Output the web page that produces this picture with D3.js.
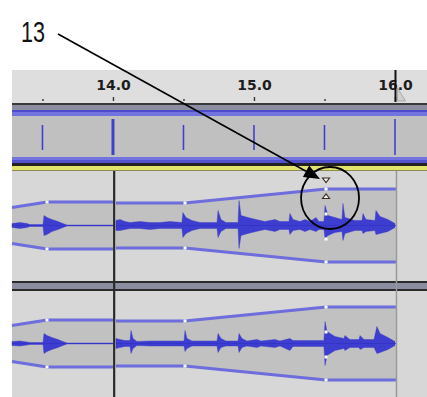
<!DOCTYPE html>
<html>
<head>
<meta charset="utf-8">
<script src="https://cdn.jsdelivr.net/npm/d3@7"></script>
<style>
    body { margin: 0; background: #fff; }
    svg { display: block; }
</style>
</head>
<body>
<div id="chart"></div>
<script>
// timeline in seconds, amplitudes as a fraction of half the track height
const rulerMajorTicks = [14.0, 15.0, 16.0];
const rulerMinorTicks = [13.5, 14.5, 15.5];
const beatTimes = [13.5, 14.0, 14.5, 15.0, 15.5, 16.0];
const barTimes = [14.0, 16.0];
const clipRanges = [[13.284, 14.0], [14.021, 16.007]];

// envelope control points per clip: [time, gain]
const envelopeClip1 = [[13.284, 0.36], [13.532, 0.47], [14.0, 0.47]];
const envelopeClip2 = [[14.021, 0.45], [14.511, 0.45], [15.511, 0.73], [16.007, 0.73]];
const envelopeHandleTimes = [13.532, 14.511, 15.511];
const selectedEnvelopeTime = 15.511;
const innerHandleValues = [0.23, -0.27];

// waveform outline: [time, top, bottom]
const waveTrackA = [
    [[13.284, 0.04, 0.04], [13.340, 0.06, 0.06], [13.390, 0.04, 0.04], [13.411, 0.02, 0.02],
     [13.504, 0.02, 0.02], [13.511, 0.20, 0.20], [13.532, 0.16, 0.18], [13.567, 0.12, 0.12],
     [13.610, 0.08, 0.08], [13.645, 0.04, 0.04], [13.674, 0.01, 0.01], [14.000, 0.01, 0.01]],
    [[14.021, 0.10, 0.10], [14.050, 0.12, 0.10], [14.085, 0.08, 0.08], [14.121, 0.06, 0.06],
     [14.191, 0.08, 0.06], [14.262, 0.06, 0.08], [14.333, 0.06, 0.06], [14.404, 0.08, 0.06],
     [14.489, 0.06, 0.06], [14.496, 0.26, 0.24], [14.518, 0.16, 0.16], [14.560, 0.10, 0.10],
     [14.617, 0.06, 0.06], [14.688, 0.06, 0.06], [14.738, 0.06, 0.06], [14.745, 0.30, 0.24],
     [14.766, 0.12, 0.12], [14.801, 0.06, 0.06], [14.887, 0.06, 0.06], [14.894, 0.50, 0.46],
     [14.908, 0.20, 0.20], [14.957, 0.16, 0.16], [15.014, 0.12, 0.12], [15.078, 0.08, 0.08],
     [15.149, 0.12, 0.12], [15.184, 0.08, 0.08], [15.248, 0.08, 0.08], [15.255, 0.24, 0.18],
     [15.277, 0.12, 0.10], [15.326, 0.08, 0.08], [15.362, 0.12, 0.12], [15.397, 0.08, 0.08],
     [15.440, 0.16, 0.12], [15.461, 0.08, 0.08], [15.496, 0.08, 0.08], [15.504, 0.40, 0.26],
     [15.525, 0.20, 0.20], [15.574, 0.16, 0.14], [15.624, 0.12, 0.12], [15.631, 0.44, 0.30],
     [15.645, 0.16, 0.16], [15.716, 0.10, 0.10], [15.766, 0.10, 0.10], [15.773, 0.24, 0.16],
     [15.794, 0.12, 0.12], [15.858, 0.10, 0.10], [15.865, 0.30, 0.18], [15.894, 0.18, 0.16],
     [15.950, 0.12, 0.12], [16.000, 0.04, 0.04]]
];
const waveTrackB = [
    [[13.284, 0.04, 0.04], [13.340, 0.05, 0.05], [13.390, 0.03, 0.03], [13.411, 0.02, 0.02],
     [13.504, 0.02, 0.02], [13.511, 0.20, 0.20], [13.532, 0.16, 0.16], [13.567, 0.12, 0.12],
     [13.610, 0.08, 0.08], [13.645, 0.04, 0.04], [13.674, 0.01, 0.01], [14.000, 0.01, 0.01]],
    [[14.021, 0.10, 0.10], [14.050, 0.08, 0.08], [14.085, 0.06, 0.06], [14.121, 0.06, 0.06],
     [14.128, 0.26, 0.20], [14.142, 0.10, 0.10], [14.170, 0.04, 0.04], [14.262, 0.05, 0.05],
     [14.404, 0.05, 0.05], [14.504, 0.05, 0.05], [14.511, 0.26, 0.16], [14.525, 0.10, 0.10],
     [14.560, 0.05, 0.05], [14.738, 0.05, 0.05], [14.745, 0.20, 0.18], [14.766, 0.10, 0.08],
     [14.801, 0.05, 0.05], [14.887, 0.05, 0.05], [14.894, 0.20, 0.18], [14.915, 0.10, 0.08],
     [14.950, 0.05, 0.05], [15.021, 0.08, 0.08], [15.050, 0.05, 0.05], [15.149, 0.08, 0.08],
     [15.184, 0.05, 0.05], [15.255, 0.10, 0.14], [15.277, 0.06, 0.06], [15.326, 0.06, 0.06],
     [15.496, 0.06, 0.06], [15.504, 0.44, 0.44], [15.518, 0.24, 0.24], [15.574, 0.14, 0.14],
     [15.638, 0.10, 0.10], [15.645, 0.16, 0.14], [15.680, 0.08, 0.08], [15.745, 0.08, 0.08],
     [15.752, 0.16, 0.12], [15.780, 0.08, 0.08], [15.851, 0.08, 0.08], [15.872, 0.34, 0.20],
     [15.894, 0.20, 0.18], [15.950, 0.12, 0.12], [16.000, 0.04, 0.04]]
];
const calloutLabel = '13';

class EnvelopeEditorView {
    constructor(_config) {
        this.config = {
            parentElement: _config.parentElement,
            containerWidth: _config.containerWidth || 427,
            containerHeight: _config.containerHeight || 397,
            panelLeft: _config.panelLeft || 12
        }
        this.initVis();
    }

    initVis() {
        let vis = this;

        vis.svg = d3.select(vis.config.parentElement).append('svg')
            .attr('width', vis.config.containerWidth)
            .attr('height', vis.config.containerHeight)
            .style('background', '#fff');

        vis.xScale = d3.scaleLinear()
            .domain([13.284, 16.227])
            .range([vis.config.panelLeft, vis.config.containerWidth]);

        // one vertical scale per audio track
        vis.tracks = [
            { top: 171, bottom: 281, center: 225.5, wave: waveTrackA, markers: true },
            { top: 291, bottom: 397, center: 343.5, wave: waveTrackB, markers: false }
        ];
        vis.tracks.forEach(t => {
            t.yScale = d3.scaleLinear().domain([-1, 1]).range([t.center + 50, t.center - 50]);
        });

        vis.panelWidth = vis.config.containerWidth - vis.config.panelLeft;
        vis.chart = vis.svg.append('g');
    }

    band(y0, y1, fill) {
        let vis = this;
        vis.chart.append('rect')
            .attr('x', vis.config.panelLeft)
            .attr('y', y0)
            .attr('width', vis.panelWidth)
            .attr('height', y1 - y0)
            .attr('fill', fill);
    }

    renderVis() {
        let vis = this;
        const x = vis.xScale;

        // ruler + header strips
        vis.band(70, 103, '#dedede');
        vis.band(103, 105, '#3a3a3a');
        vis.band(105, 110, '#8b8da1');

        // beat track
        vis.band(110, 163, '#c0c0c0');
        vis.band(110, 112, '#4d4dcc');
        vis.band(112, 116, '#7373e0');
        vis.band(157, 160, '#7373e0');
        vis.band(160, 163, '#5252cf');
        vis.chart.selectAll('.beat')
            .data(beatTimes)
            .join('line')
            .attr('class', 'beat')
            .attr('x1', d => x(d)).attr('x2', d => x(d))
            .attr('y1', d => barTimes.includes(d) ? 119 : 125)
            .attr('y2', d => barTimes.includes(d) ? 155 : 150)
            .attr('stroke', '#4040d0')
            .attr('stroke-width', d => d === 14.0 ? 3 : 1.6);

        vis.band(163, 166, '#222');
        vis.band(166, 170, '#e4e46c');
        vis.band(170, 171, '#8a8a52');

        // audio tracks
        vis.tracks.forEach(t => vis.band(t.top, t.bottom, '#d7d7d7'));
        vis.band(281, 283, '#2a2a2a');
        vis.band(283, 289, '#8b8da1');
        vis.band(289, 291, '#2a2a2a');

        const envelopes = [envelopeClip1, envelopeClip2];

        vis.tracks.forEach(t => {
            const y = t.yScale;
            const g = vis.chart.append('g');

            // gain region inside envelope
            const envArea = d3.area()
                .x(d => x(d[0]))
                .y0(d => y(-d[1]))
                .y1(d => y(d[1]));
            g.selectAll('.env-fill')
                .data(envelopes)
                .join('path')
                .attr('class', 'env-fill')
                .attr('d', envArea)
                .attr('fill', '#c1c1c1');

            // waveform
            const waveArea = d3.area()
                .x(d => x(d[0]))
                .y0(d => y(-d[2]))
                .y1(d => y(d[1]));
            g.selectAll('.wave')
                .data(t.wave)
                .join('path')
                .attr('class', 'wave')
                .attr('d', waveArea)
                .attr('fill', '#3d3dd0')
                .attr('stroke', '#3434c8')
                .attr('stroke-width', 0.4);
            g.selectAll('.centre')
                .data(clipRanges)
                .join('line')
                .attr('class', 'centre')
                .attr('x1', d => x(d[0])).attr('x2', d => x(d[1]))
                .attr('y1', y(0)).attr('y2', y(0))
                .attr('stroke', '#3434c8')
                .attr('stroke-width', 1.2);

            // envelope outline, upper and lower
            [1, -1].forEach(sign => {
                const envLine = d3.line()
                    .x(d => x(d[0]))
                    .y(d => y(sign * d[1]));
                g.selectAll('.env-line' + sign)
                    .data(envelopes)
                    .join('path')
                    .attr('d', envLine)
                    .attr('fill', 'none')
                    .attr('stroke', '#6d6ddd')
                    .attr('stroke-width', 3.2);
            });

            // control points
            const allEnv = envelopeClip1.concat(envelopeClip2);
            const handles = [];
            envelopeHandleTimes.forEach(tm => {
                const p = allEnv.find(e => e[0] === tm);
                handles.push([tm, p[1]], [tm, -p[1]]);
            });
            innerHandleValues.forEach(v => handles.push([selectedEnvelopeTime, v]));
            g.selectAll('.handle')
                .data(handles)
                .join('rect')
                .attr('class', 'handle')
                .attr('x', d => x(d[0]) - 1.5)
                .attr('y', d => y(d[1]) - 1.5)
                .attr('width', 3)
                .attr('height', 3)
                .attr('fill', '#fff');

            if (t.markers) {
                const sel = allEnv.find(e => e[0] === selectedEnvelopeTime);
                const hx = x(selectedEnvelopeTime);
                const hy = y(sel[1]);
                g.append('path')
                    .attr('d', `M${hx - 3.5},${hy - 11}L${hx + 3.5},${hy - 11}L${hx},${hy - 6.5}Z`)
                    .attr('fill', '#f4f4f4')
                    .attr('stroke', '#3a2a20')
                    .attr('stroke-width', 1.1);
                g.append('path')
                    .attr('d', `M${hx - 3.5},${hy + 9.5}L${hx + 3.5},${hy + 9.5}L${hx},${hy + 5}Z`)
                    .attr('fill', '#f4f4f4')
                    .attr('stroke', '#3a2a20')
                    .attr('stroke-width', 1.1);
            }
        });

        // clip boundaries
        vis.chart.append('line')
            .attr('x1', x(14.0) + 1.2).attr('x2', x(14.0) + 1.2)
            .attr('y1', 171).attr('y2', vis.config.containerHeight)
            .attr('stroke', '#2a2a2a')
            .attr('stroke-width', 2.2);
        vis.chart.append('line')
            .attr('x1', x(clipRanges[1][1]) + 0.5).attr('x2', x(clipRanges[1][1]) + 0.5)
            .attr('y1', 171).attr('y2', vis.config.containerHeight)
            .attr('stroke', '#9a9a9a')
            .attr('stroke-width', 1.5);

        // ruler axis
        const majorAxis = d3.axisTop(x)
            .tickValues(rulerMajorTicks)
            .tickFormat(d3.format('.1f'))
            .tickSize(4)
            .tickPadding(7);
        const minorAxis = d3.axisTop(x)
            .tickValues(rulerMinorTicks)
            .tickFormat('')
            .tickSize(2);

        vis.chart.append('g')
            .attr('transform', 'translate(0,101)')
            .call(majorAxis)
            .call(g => g.select('.domain').remove())
            .call(g => g.selectAll('line').attr('stroke', '#333').attr('stroke-width', 1.4))
            .call(g => g.selectAll('text')
                .attr('fill', '#1c1c1c')
                .style('font-family', '"DejaVu Sans", sans-serif')
                .style('font-weight', 'bold')
                .style('font-size', '14px'));
        vis.chart.append('g')
            .attr('transform', 'translate(0,101)')
            .call(minorAxis)
            .call(g => g.select('.domain').remove())
            .call(g => g.selectAll('line').attr('stroke', '#333').attr('stroke-width', 1.4));

        // play cursor at the end of the clip
        const cx = x(16.0) + 0.5;
        vis.chart.append('line')
            .attr('x1', cx).attr('x2', cx)
            .attr('y1', 70).attr('y2', 102)
            .attr('stroke', '#111')
            .attr('stroke-width', 2);
        vis.chart.append('path')
            .attr('d', `M${cx + 2},${88}L${cx + 10},${101}L${cx + 2},${101}Z`)
            .attr('fill', '#d0d0d0')
            .attr('stroke', '#a8a8a8')
            .attr('stroke-width', 1);

        // callout
        const focusX = x(selectedEnvelopeTime) + 4;
        const focusY = vis.tracks[0].yScale(0.55);
        vis.svg.append('ellipse')
            .attr('cx', focusX).attr('cy', focusY)
            .attr('rx', 29).attr('ry', 31)
            .attr('fill', 'none')
            .attr('stroke', '#000')
            .attr('stroke-width', 1.8);

        const start = [58, 34];
        const tip = [focusX - 10, focusY - 19];
        const dx = tip[0] - start[0], dy = tip[1] - start[1];
        const len = Math.hypot(dx, dy);
        const ux = dx / len, uy = dy / len;
        const base = [tip[0] - 16 * ux, tip[1] - 16 * uy];
        vis.svg.append('line')
            .attr('x1', start[0]).attr('y1', start[1])
            .attr('x2', base[0]).attr('y2', base[1])
            .attr('stroke', '#000')
            .attr('stroke-width', 1.6);
        vis.svg.append('path')
            .attr('d', `M${tip[0]},${tip[1]}L${base[0] - 6.5 * uy},${base[1] + 6.5 * ux}L${base[0] + 6.5 * uy},${base[1] - 6.5 * ux}Z`)
            .attr('fill', '#000');

        vis.svg.append('text')
            .attr('x', 21)
            .attr('y', 42)
            .attr('textLength', 24)
            .attr('lengthAdjust', 'spacingAndGlyphs')
            .style('font-family', '"Liberation Sans", sans-serif')
            .style('font-size', '30px')
            .attr('fill', '#111')
            .text(calloutLabel);
    }
}

const view = new EnvelopeEditorView({ parentElement: '#chart' });
view.renderVis();
</script>
</body>
</html>
